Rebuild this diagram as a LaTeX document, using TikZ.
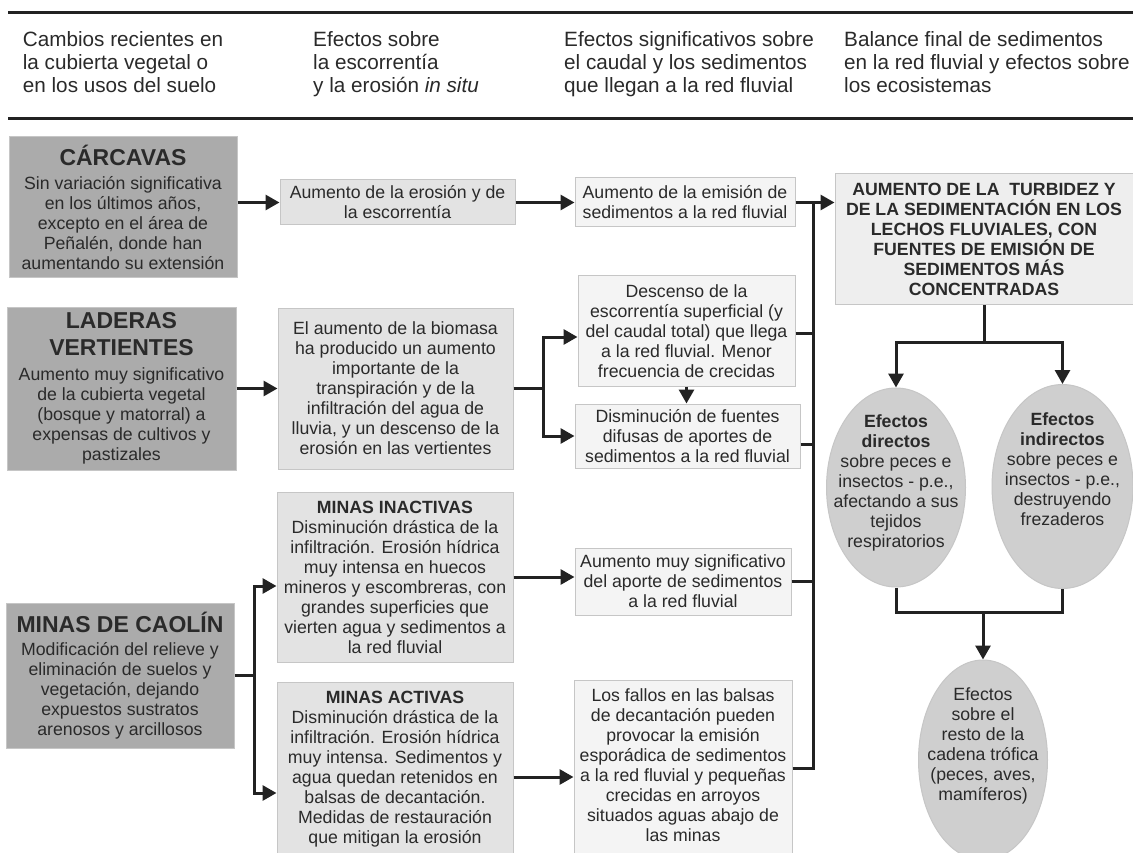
\documentclass[tikz,border=0pt]{standalone}
\usepackage{fontspec}
\setmainfont{Liberation Sans}
\usetikzlibrary{arrows.meta,shapes.geometric,calc}
\definecolor{darkbox}{HTML}{ABABAB}
\definecolor{midbox}{HTML}{E3E3E3}
\definecolor{lightbox}{HTML}{F4F4F4}
\definecolor{bigbox}{HTML}{EEEEEE}
\definecolor{ellfill}{HTML}{CFCFCF}
\definecolor{edgecol}{HTML}{C6C6C6}
\definecolor{ink}{HTML}{222222}
\definecolor{txt}{HTML}{2A2A2A}
\newcommand\mytitle[1]{{\fontsize{23}{27}\selectfont\bfseries #1}}
\begin{document}
\begin{tikzpicture}[x=1pt,y=-1pt,
  every node/.style={font=\fontsize{17.7}{20}\selectfont, text=txt, align=center, inner sep=0pt},
  boxbase/.style={rectangle, draw=edgecol, line width=1pt},
  darkb/.style={boxbase, fill=darkbox},
  midb/.style={boxbase, fill=midbox},
  lightb/.style={boxbase, fill=lightbox},
  bigb/.style={boxbase, fill=bigbox, font=\fontsize{17.7}{20}\selectfont\bfseries},
  ellb/.style={ellipse, draw=edgecol, fill=ellfill, line width=1pt, inner sep=0pt},
  ln/.style={draw=ink, line width=3pt},
  arr/.style={ln, -{Triangle[length=14pt,width=15pt]}},
  hdr/.style={font=\fontsize{20.7}{23.3}\selectfont, text=txt, align=left, anchor=north west},
]
\useasboundingbox (0,0) rectangle (1133,853);
\fill[white] (0,0) rectangle (1133,853);
\clip (0,0) rectangle (1133,853);

% header
\draw[draw=ink, line width=3.5pt] (8,12.5) -- (1133,12.5);
\draw[draw=ink, line width=3.5pt] (8,118.5) -- (1133,118.5);
\node[hdr] (h1) at (22.7,31) {Cambios recientes en\\la cubierta vegetal o\\en los usos del suelo};
\node[hdr] (h2) at (313,31) {Efectos sobre\\la escorrentía\\y la erosión \textit{in situ}};
\node[hdr] (h3) at (564,31) {Efectos significativos sobre\\el caudal y los sedimentos\\que llegan a la red fluvial};
\node[hdr] (h4) at (844,31) {Balance final de sedimentos\\en la red fluvial y efectos sobre\\los ecosistemas};

% left column
\node[darkb, minimum width=228, minimum height=141] (carc) at (123,207.5)
 {\mytitle{CÁRCAVAS}\\[4pt]Sin variación significativa\\en los últimos años,\\excepto en el área de\\Peñalén, donde han\\aumentando su extensión};
\node[darkb, minimum width=229, minimum height=163] (lad) at (121.5,388.5)
 {\mytitle{LADERAS}\\[7pt]\mytitle{VERTIENTES}\\[5pt]Aumento muy significativo\\de la cubierta vegetal\\(bosque y matorral) a\\expensas de cultivos y\\pastizales};
\node[darkb, minimum width=228, minimum height=145] (cao) at (120,675.5)
 {\mytitle{MINAS DE CAOLÍN}\\[3pt]Modificación del relieve y\\eliminación de suelos y\\vegetación, dejando\\expuestos sustratos\\arenosos y arcillosos};

% second column
\node[midb, minimum width=235, minimum height=45] (eros) at (397.5,202.5)
 {Aumento de la erosión y de\\la escorrentía};
\node[midb, minimum width=235, minimum height=161] (bio) at (395.5,388.5)
 {El aumento de la biomasa\\ha producido un aumento\\importante de la\\transpiración y de la\\infiltración del agua de\\lluvia, y un descenso de la\\erosión en las vertientes};
\node[midb, minimum width=236, minimum height=170] (inac) at (395,577)
 {\textbf{MINAS INACTIVAS}\\Disminución drástica de la\\infiltración. Erosión hídrica\\muy intensa en huecos\\mineros y escombreras, con\\grandes superficies que\\vierten agua y sedimentos a\\la red fluvial};
\node[midb, minimum width=236, minimum height=188] (act) at (395,776) {};
\node[anchor=north] (acttxt) at (395,690.7)
 {\textbf{MINAS ACTIVAS}\\Disminución drástica de la\\infiltración. Erosión hídrica\\muy intensa. Sedimentos y\\agua quedan retenidos en\\balsas de decantación.\\Medidas de restauración\\que mitigan la erosión};

% third column
\node[lightb, minimum width=220, minimum height=49] (emis) at (685,202.5)
 {Aumento de la emisión de\\sedimentos a la red fluvial};
\node[lightb, minimum width=217, minimum height=110] (desc) at (686.5,331)
 {Descenso de la\\escorrentía superficial (y\\del caudal total) que llega\\a la red fluvial. Menor\\frecuencia de crecidas};
\node[lightb, minimum width=225, minimum height=64] (dism) at (687.5,436)
 {Disminución de fuentes\\difusas de aportes de\\sedimentos a la red fluvial};
\node[lightb, minimum width=216, minimum height=67] (amuy) at (683,581.5)
 {Aumento muy significativo\\del aporte de sedimentos\\a la red fluvial};
\node[lightb, minimum width=218, minimum height=190] (fall) at (683,775) {};
\node[anchor=north] (falltxt) at (683,688.6)
 {Los fallos en las balsas\\de decantación pueden\\provocar la emisión\\esporádica de sedimentos\\a la red fluvial y pequeñas\\crecidas en arroyos\\situados aguas abajo de\\las minas};

% right
\node[bigb, minimum width=298, minimum height=131] (big) at (984,239)
 {AUMENTO DE LA\ \ TURBIDEZ Y\\DE LA SEDIMENTACIÓN EN LOS\\LECHOS FLUVIALES, CON\\FUENTES DE EMISIÓN DE\\SEDIMENTOS MÁS\\CONCENTRADAS};
\node[ellb, minimum width=139, minimum height=199] (dir) at (896,487.5) {};
\node (dirtxt) at (896,482.7) {\textbf{Efectos}\\\textbf{directos}\\sobre peces e\\insectos - p.e.,\\afectando a sus\\tejidos\\respiratorios};
\node[ellb, minimum width=141, minimum height=204] (ind) at (1062.5,486.5) {};
\node (indtxt) at (1062.5,469.5) {\textbf{Efectos}\\\textbf{indirectos}\\sobre peces e\\insectos - p.e.,\\destruyendo\\frezaderos};
\node[ellb, minimum width=129, minimum height=200] (rest) at (983,760) {};
\node (resttxt) at (983,746) {Efectos\\sobre el\\resto de la\\cadena trófica\\(peces, aves,\\mamíferos)};

% connectors row 1
\draw[arr] (carc.east |- eros) -- (eros.west);
\draw[arr] (eros.east) -- (emis.west);
\draw[arr] (emis.east) -- (emis.east -| big.west);

% bus
\coordinate (busT) at (813,202.5);
\draw[ln] ($(fall.east)+(0,-7)$) -| (busT);
\draw[ln] ($(desc.east)+(0,2)$) -- ($(desc.east -| busT)+(0,2)$);
\draw[ln] ($(dism.east)+(0,8)$) -- ($(dism.east -| busT)+(0,8)$);
\draw[ln] (amuy.east) -- (amuy.east -| busT);

% laderas
\draw[arr] (lad.east) -- (bio.west);
\coordinate (bioB) at (543,388.5);
\draw[ln] (bio.east) -- (bioB);
\draw[arr] (bioB) |- ($(desc.west)+(0,6)$);
\draw[arr] (bioB) |- (dism.west);
\draw[arr] (desc.south) -- (desc.south |- dism.north);

% minas
\coordinate (caoB) at (254.5,675.5);
\draw[ln] (cao.east) -- (caoB);
\draw[arr] (caoB) |- ($(inac.west)+(0,9)$);
\draw[arr] (caoB) |- ($(act.west)+(0,17)$);
\draw[arr] (inac.east) -- (inac.east -| amuy.west);
\draw[arr] ($(act.east)+(0,1)$) -- ($(fall.west)+(0,2)$);

% right side
\coordinate (bigB) at (984,342);
\draw[ln] (big.south) -- (bigB);
\draw[arr] (bigB) -| (dir.north);
\draw[arr] (bigB) -| (ind.north);
\coordinate (ellJ) at (983,612);
\draw[ln] (dir.south) |- (ellJ) -| (ind.south);
\draw[arr] (ellJ) -- (rest.north);
\end{tikzpicture}
\end{document}
